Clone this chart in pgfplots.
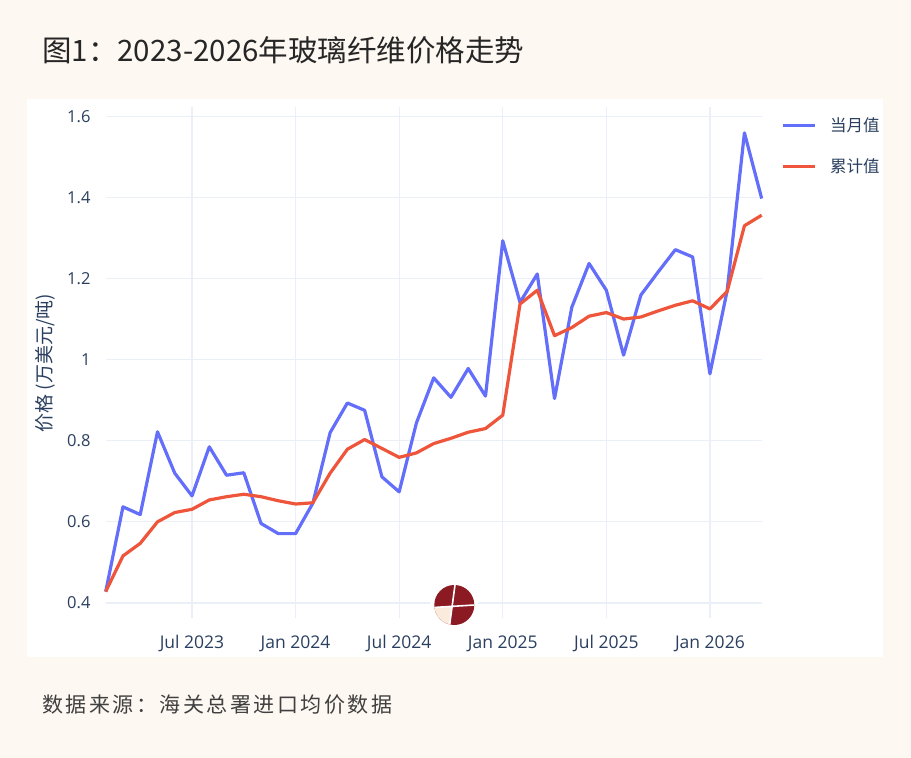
\documentclass[border=0pt]{standalone}
\usepackage{fontspec}
\usepackage{pgfplots}
\pgfplotsset{compat=1.18}
\setmainfont{Open Sans}
\newfontfamily\cjk{Noto Sans CJK SC}
\newfontfamily\cjkfoot[LetterSpace=12]{Noto Sans CJK SC}
\definecolor{bgcream}{RGB}{253,248,242}
\definecolor{plotblue}{HTML}{636EFA}
\definecolor{plotred}{HTML}{EF553B}
\definecolor{gridc}{HTML}{EBF0F8}
\definecolor{fontc}{HTML}{2A3F5F}
\definecolor{logored}{RGB}{139,26,34}
\definecolor{logocream}{RGB}{250,235,220}
\begin{document}
\begin{tikzpicture}[x=1pt,y=1pt]
\fill[bgcream] (0,0) rectangle (911,758);
\fill[white] (27.3,100.7) rectangle (883,659);
\node[anchor=west,inner sep=0pt,text=black!85] at (42,708) {\cjk\fontsize{29.5}{29.5}\selectfont 图1：2023-2026年玻璃纤维价格走势};
\node[anchor=west,inner sep=0pt,text=black!75] at (42,53) {\cjkfoot\fontsize{21}{21}\selectfont 数据来源：海关总署进口均价数据};
\begin{axis}[
  at={(105.7pt,140pt)}, anchor=south west,
  scale only axis, width=656pt, height=510.7pt,
  xmin=1, xmax=39, ymin=0.363, ymax=1.622,
  axis line style={draw=none},
  major tick length=0pt,
  grid=major,
  major grid style={gridc, line width=1.2pt},
  xtick={6,12,18,24,30,36},
  xticklabels={Jul 2023,Jan 2024,Jul 2024,Jan 2025,Jul 2025,Jan 2026},
  ytick={0.4,0.6,0.8,1,1.2,1.4,1.6},
  yticklabels={0.4,0.6,0.8,1,1.2,1.4,1.6},
  xticklabel style={font=\fontsize{17.5}{17.5}\selectfont, text=fontc, anchor=base, inner sep=0pt, yshift=-31pt},
  yticklabel style={font=\fontsize{16.5}{16.5}\selectfont, text=fontc, anchor=east, inner sep=0pt, xshift=-15pt},
  ylabel={\cjk 价格 (万美元/吨)},
  every axis y label/.style={at={(axis description cs:-0.092,0.499)}, rotate=90, anchor=center, font=\fontsize{19}{19}\selectfont, text=fontc},
  legend style={at={(axis description cs:1.029,0.982)}, anchor=north west, draw=none, fill=none,
    font=\cjk\fontsize{16.5}{16.5}\selectfont, text=fontc, row sep=24pt, column sep=13pt, inner sep=0pt,
    nodes={inner sep=1pt}},
  legend cell align=left,
  legend image code/.code={\draw[#1] (0pt,0pt) -- (32pt,0pt);},
  clip=false,
]
\addplot[plotblue, line width=3.2pt, line join=round] coordinates {
(1,0.428) (2,0.637) (3,0.618) (4,0.822) (5,0.720) (6,0.664) (7,0.785) (8,0.715)
(9,0.721) (10,0.596) (11,0.571) (12,0.571) (13,0.646) (14,0.820) (15,0.893) (16,0.875)
(17,0.711) (18,0.674) (19,0.844) (20,0.955) (21,0.907) (22,0.978) (23,0.910) (24,1.293)
(25,1.141) (26,1.211) (27,0.904) (28,1.129) (29,1.237) (30,1.171) (31,1.011) (32,1.159)
(33,1.216) (34,1.271) (35,1.253) (36,0.965) (37,1.170) (38,1.559) (39,1.397)
};
\addlegendentry{当月值}
\addplot[plotred, line width=3.2pt, line join=round] coordinates {
(1,0.428) (2,0.516) (3,0.547) (4,0.600) (5,0.623) (6,0.631) (7,0.654) (8,0.662)
(9,0.668) (10,0.662) (11,0.652) (12,0.644) (13,0.647) (14,0.720) (15,0.779) (16,0.803)
(17,0.781) (18,0.759) (19,0.770) (20,0.793) (21,0.806) (22,0.821) (23,0.830) (24,0.863)
(25,1.137) (26,1.171) (27,1.059) (28,1.079) (29,1.107) (30,1.116) (31,1.100) (32,1.105)
(33,1.120) (34,1.134) (35,1.145) (36,1.125) (37,1.168) (38,1.330) (39,1.356)
};
\addlegendentry{累计值}
\end{axis}
% watermark logo
\fill[white] (454.3,153) circle (24);
\fill[logored] (454.3,153) circle (20);
\begin{scope}
\clip (454.3,153) circle (20);
\fill[logocream] (449.5,130) -- (452.2,151.5) -- (430,150.5) -- (430,130) -- cycle;
\draw[white, line width=1.6pt] (455.4,176) -- (449.2,130);
\draw[white, line width=1.6pt] (430,150.3) -- (478,153.2);
\end{scope}
\pgfresetboundingbox
\useasboundingbox (0,0) rectangle (911,758);
\end{tikzpicture}
\end{document}
